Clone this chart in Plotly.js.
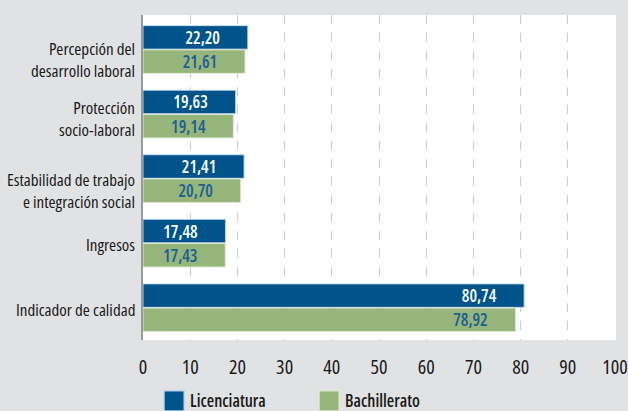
<!DOCTYPE html>
<html>
<head>
<meta charset="utf-8">
<script src="https://cdn.plot.ly/plotly-3.0.1.min.js"></script>
<style>
  html, body { margin: 0; padding: 0; background: #e1e2e4; }
  #chart { width: 628px; height: 411px; }
  svg text { font-stretch: 75%; }
  .legend .legendpoints path { transform: translate(24px, 0) scale(1.7); }
</style>
</head>
<body>
<div id="chart"></div>
<script>
// ---- data ----
var categories = [
  "Percepción del<br>desarrollo laboral",
  "Protección<br>socio-laboral",
  "Estabilidad de trabajo<br>e integración social",
  "Ingresos",
  "Indicador de calidad"
];
var licenciatura = [22.20, 19.63, 21.41, 17.48, 80.74];
var bachillerato = [21.61, 19.14, 20.70, 17.43, 78.92];
var seriesNames = ["Licenciatura", "Bachillerato"];
var xTickValues = [0, 10, 20, 30, 40, 50, 60, 70, 80, 90, 100];

// ---- style ----
var FONT = "'Open Sans', 'DejaVu Sans Condensed', sans-serif";
var BLUE = "#00538b";
var GREEN = "#96b57a";
var pad = "\u00a0\u00a0\u00a0\u00a0\u00a0\u00a0\u00a0\u00a0";
var labelNudge = [-10, -4, -12, -1, -2];

var traces = [
  {
    type: "bar", orientation: "h", name: seriesNames[0],
    y: categories, x: licenciatura,
    marker: { color: BLUE, line: { color: "rgba(200,220,240,0.9)", width: 1 } },
    texttemplate: "%{x:.2f}" + pad, textposition: "inside", insidetextanchor: "end",
    textfont: { family: FONT, size: 17, weight: 600, color: "#ffffff" },
    constraintext: "none", hoverinfo: "skip"
  },
  {
    type: "bar", orientation: "h", name: seriesNames[1],
    y: categories, x: bachillerato,
    marker: { color: GREEN, line: { color: "rgba(225,235,215,0.9)", width: 1 } },
    texttemplate: "%{x:.2f}" + pad, textposition: "inside", insidetextanchor: "end",
    textfont: { family: FONT, size: 17, weight: 600, color: "#1a5f96" },
    constraintext: "none", hoverinfo: "skip"
  }
];

var annotations = categories.map(function (c, i) {
  return {
    text: c, xref: "paper", x: 0, xanchor: "right", xshift: -6,
    yref: "y", y: c, yanchor: "middle", yshift: labelNudge[i],
    showarrow: false, align: "right",
    font: { family: FONT, size: 17, weight: 500, color: "#1a1a1a" }
  };
});

var layout = {
  width: 628, height: 411,
  margin: { l: 143, r: 12, t: 15, b: 71, pad: 0, autoexpand: false },
  paper_bgcolor: "#e1e2e4",
  plot_bgcolor: "#ffffff",
  separators: ",.",
  barmode: "group",
  bargap: 0.25,
  bargroupgap: 0.03,
  showlegend: true,
  legend: {
    orientation: "h", x: 0.015, xanchor: "left", y: -0.133, yanchor: "top",
    bgcolor: "rgba(0,0,0,0)",
    font: { family: FONT, size: 17, weight: 600, color: "#1a1a1a" },
    traceorder: "normal",
    entrywidth: 110, entrywidthmode: "pixels"
  },
  xaxis: {
    range: [0, 100.2], tickvals: xTickValues, ticktext: xTickValues.map(String),
    showgrid: true, gridcolor: "#cccccc", griddash: "dash", gridwidth: 1,
    zeroline: false, showline: false, ticks: "",
    tickfont: { family: FONT, size: 20, weight: 500, color: "#1a1a1a" },
    ticklabelstandoff: 13, ticklabeloverflow: "allow", fixedrange: true
  },
  yaxis: {
    autorange: "reversed", showgrid: false, zeroline: false,
    showline: true, linecolor: "#999999", linewidth: 2,
    showticklabels: false, ticks: "", fixedrange: true
  },
  annotations: annotations
};

Plotly.newPlot("chart", traces, layout, { displayModeBar: false, staticPlot: true });
</script>
</body>
</html>
